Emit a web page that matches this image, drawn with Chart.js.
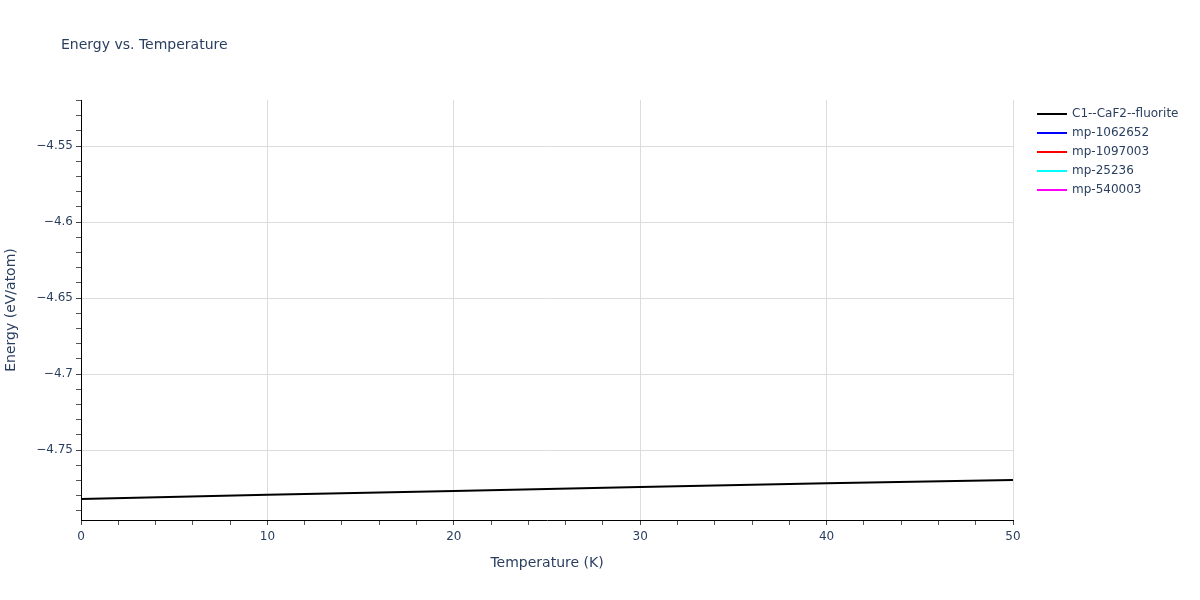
<!DOCTYPE html>
<html>
<head>
<meta charset="utf-8">
<script src="https://cdn.jsdelivr.net/npm/chart.js@4"></script>
<style>
    html, body { margin: 0; padding: 0; background: #fff; }
    #wrap { width: 1200px; height: 600px; }
</style>
</head>
<body>
<div id="wrap"><canvas id="chart" width="1200" height="600"></canvas></div>
<script>
// DATA
const temperatureK = [0, 10, 20, 30, 40, 50];
const energyFluorite = [-4.7822, -4.7794, -4.7770, -4.7743, -4.7719, -4.7697];

const seriesNames = ['C1--CaF2--fluorite', 'mp-1062652', 'mp-1097003', 'mp-25236', 'mp-540003'];
const seriesColors = ['#000000', '#0000ff', '#ff0000', '#00ffff', '#ff00ff'];

// AXES
const xMajorTicks = [0, 10, 20, 30, 40, 50];
const yMajorTicks = [-4.75, -4.7, -4.65, -4.6, -4.55];
const X_MIN = 0, X_MAX = 50, X_MINOR = 2;
const Y_MIN = -4.796, Y_MAX = -4.5197, Y_MINOR = 0.01;

const FONT = '"DejaVu Sans", verdana, arial, sans-serif';
const TEXT = '#2a3f5f';

function isMajor(v, list) {
    return list.some(m => Math.abs(m - v) < 1e-6);
}

// minor tick positions (every 2 K / every 0.01 eV)
const xAllTicks = [];
for (let v = X_MIN; v <= X_MAX + 1e-9; v += X_MINOR) xAllTicks.push(+v.toFixed(2));
const yAllTicks = [];
for (let v = -4.79; v <= Y_MAX + 1e-9; v += Y_MINOR) yAllTicks.push(+v.toFixed(2));

const points = temperatureK.map((t, i) => ({ x: t, y: energyFluorite[i] }));

const datasets = seriesNames.map((name, i) => ({
    label: name,
    data: i === 0 ? points : [],
    borderColor: seriesColors[i],
    backgroundColor: seriesColors[i],
    borderWidth: 2,
    pointRadius: 0,
    tension: 0
}));

// Titles + legend drawn in plotly style
const decorPlugin = {
    id: 'decor',
    afterDraw(chart) {
        const c = chart.ctx;
        const area = chart.chartArea;
        c.save();
        c.fillStyle = TEXT;
        c.textBaseline = 'middle';

        c.font = `14px ${FONT}`;
        c.textAlign = 'left';
        c.fillText('Energy vs. Temperature', 61, 45);

        c.font = `14px ${FONT}`;
        c.textAlign = 'center';
        c.fillText('Temperature (K)', (area.left + area.right) / 2, 563);

        c.save();
        c.translate(11, (area.top + area.bottom) / 2);
        c.rotate(-Math.PI / 2);
        c.fillText('Energy (eV/atom)', 0, 0);
        c.restore();

        // legend
        c.font = `12px ${FONT}`;
        c.textAlign = 'left';
        chart.data.datasets.forEach((ds, i) => {
            const y = 114 + i * 19;
            c.strokeStyle = ds.borderColor;
            c.lineWidth = 2;
            c.beginPath();
            c.moveTo(1037, y);
            c.lineTo(1067, y);
            c.stroke();
            c.fillStyle = TEXT;
            c.fillText(ds.label, 1072, y);
        });
        c.restore();
    }
};

const chart = new Chart(document.getElementById('chart').getContext('2d'), {
    type: 'line',
    data: { datasets },
    plugins: [decorPlugin],
    options: {
        responsive: false,
        animation: false,
        devicePixelRatio: 1,
        layout: { padding: { top: 100, right: 187, left: 0, bottom: 0 } },
        plugins: {
            legend: { display: false },
            title: { display: false },
            tooltip: { enabled: false }
        },
        scales: {
            x: {
                type: 'linear',
                min: X_MIN,
                max: X_MAX,
                afterBuildTicks: s => { s.ticks = xAllTicks.map(v => ({ value: v })); },
                afterFit: s => { s.height = 80; },
                border: { display: true, color: '#000', width: 1 },
                grid: {
                    color: ctx => isMajor(ctx.tick.value, xMajorTicks) ? '#dcdcdc' : 'rgba(0,0,0,0)',
                    tickColor: ctx => isMajor(ctx.tick.value, xMajorTicks) ? '#444' : '#555',
                    tickLength: 5,
                    lineWidth: 1
                },
                ticks: {
                    autoSkip: false,
                    maxRotation: 0,
                    padding: 5,
                    color: TEXT,
                    font: { family: FONT, size: 12 },
                    callback: v => isMajor(v, xMajorTicks) ? String(v) : ''
                }
            },
            y: {
                type: 'linear',
                min: Y_MIN,
                max: Y_MAX,
                afterBuildTicks: s => { s.ticks = yAllTicks.map(v => ({ value: v })); },
                afterFit: s => { s.width = 81; },
                border: { display: true, color: '#000', width: 1 },
                grid: {
                    color: ctx => isMajor(ctx.tick.value, yMajorTicks) ? '#dcdcdc' : 'rgba(0,0,0,0)',
                    tickColor: ctx => isMajor(ctx.tick.value, yMajorTicks) ? '#444' : '#555',
                    tickLength: 5,
                    lineWidth: 1
                },
                ticks: {
                    autoSkip: false,
                    padding: 3,
                    color: TEXT,
                    font: { family: FONT, size: 12 },
                    callback: v => isMajor(v, yMajorTicks) ? String(+v.toFixed(2)).replace('-', '\u2212') : ''
                }
            }
        }
    }
});
</script>
</body>
</html>
